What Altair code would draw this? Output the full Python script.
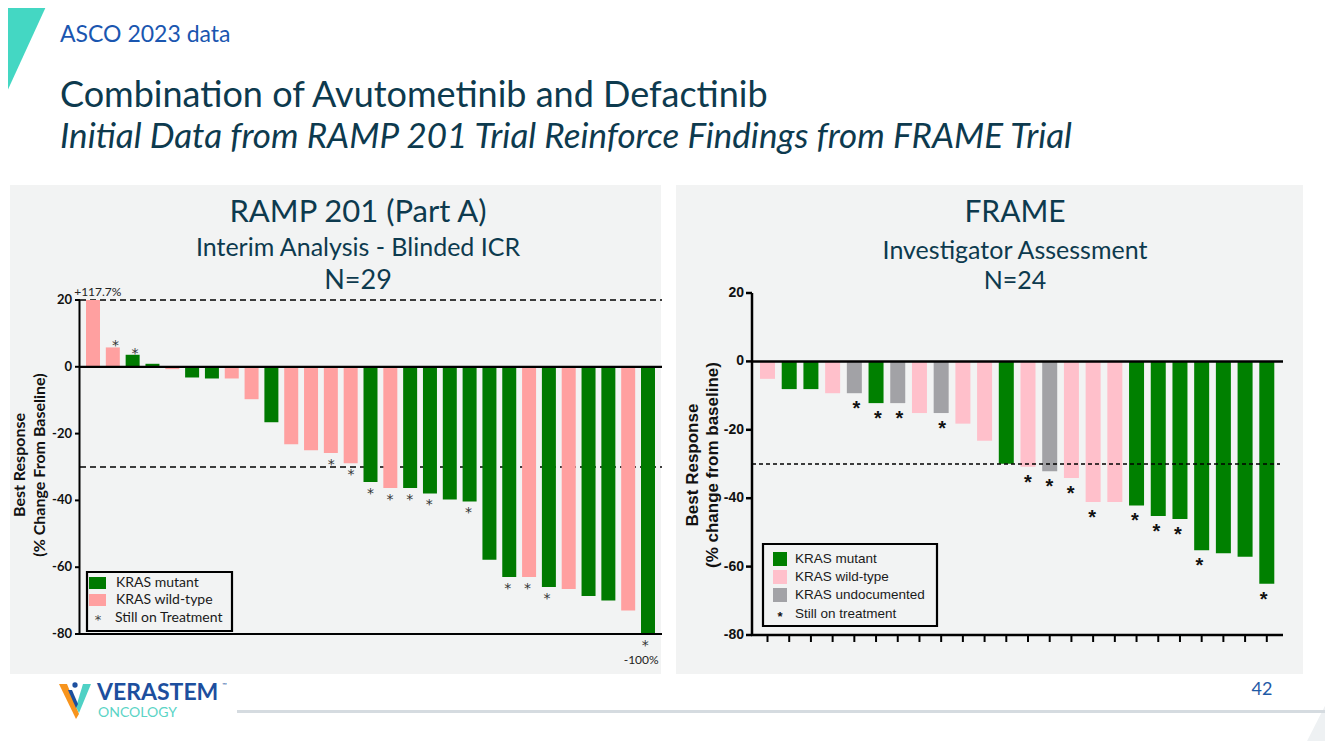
import altair as alt
import pandas as pd

# ---------------- data ----------------
MUT, WT, UND = "KRAS mutant", "KRAS wild-type", "KRAS undocumented"

ramp_ids = list(range(1, 30))
ramp_values = [117.7, 5.8, 3.6, 0.9, -0.7, -3.2, -3.5, -3.5, -9.7, -16.6, -23.2, -25.0,
               -25.8, -28.9, -34.5, -36.3, -36.3, -37.9, -39.7, -40.3, -57.8, -62.9,
               -62.9, -65.9, -66.5, -68.6, -70.0, -73.0, -100.0]
ramp_kras = [WT, WT, MUT, MUT, WT, MUT, MUT, WT, WT, MUT, WT, WT, WT, WT, MUT, WT, MUT,
             MUT, MUT, MUT, MUT, MUT, WT, MUT, WT, MUT, MUT, WT, MUT]
ramp_on_treatment = [0, 1, 1, 0, 0, 0, 0, 0, 0, 0, 0, 0, 1, 1, 1, 1, 1, 1, 0, 1, 0, 1, 1, 1,
                     0, 0, 0, 0, 1]

frame_ids = list(range(1, 25))
frame_values = [-5.1, -8.1, -8.1, -9.3, -9.3, -12.2, -12.2, -15.1, -15.1, -18.2, -23.2,
                -29.9, -30.8, -32.1, -34.1, -41.1, -41.1, -42.1, -45.2, -46.1, -55.2,
                -56.1, -57.1, -65.0]
frame_kras = [WT, MUT, MUT, WT, UND, MUT, UND, WT, UND, WT, WT, MUT, WT, UND, WT, WT, WT,
              MUT, MUT, MUT, MUT, MUT, MUT, MUT]
frame_on_treatment = [0, 0, 0, 0, 1, 1, 1, 0, 1, 0, 0, 0, 1, 1, 1, 1, 0, 1, 1, 1, 1, 0, 0, 1]

y_ticks = [20, 0, -20, -40, -60, -80]
ramp_dashed = [20, -30]
frame_dashed = [-30]
solid_lines = [0, -80]

ramp_legend = [MUT, WT]
frame_legend = [MUT, WT, UND]
ramp_star_label = "Still on Treatment"
frame_star_label = "Still on treatment"
ramp_palette = ["#007a00", "#ffa0a0"]
frame_palette = ["#008000", "#ffc0cb", "#a2a2a6"]

slide_tag = "ASCO 2023 data"
slide_title = "Combination of Avutometinib and Defactinib"
slide_subtitle = "Initial Data from RAMP 201 Trial Reinforce Findings from FRAME Trial"
ramp_titles = ["RAMP 201 (Part A)", "Interim Analysis - Blinded ICR", "N=29"]
frame_titles = ["FRAME", "Investigator Assessment", "N=24"]
ramp_ytitle = ["Best Response", "(% Change From Baseline)"]
frame_ytitle = ["Best  Response", "(% change from baseline)"]
page_number = "42"
logo_words = ["VERASTEM", "ONCOLOGY"]

# ---------------- helpers ----------------
OFF = 8
def px(v):
    return v - OFF

NAVY = "#0d3a4e"
PANEL = "#f2f3f3"
one = pd.DataFrame({"k": [0]})
layers = []

def text(s, x, y, size, color=NAVY, font="Lato", weight="normal", style="normal",
         align="center", baseline="middle", angle=None):
    kw = dict(text=s, fontSize=size, color=color, font=font, fontWeight=weight,
              fontStyle=style, align=align, baseline=baseline)
    if angle is not None:
        kw["angle"] = angle
    return alt.Chart(one).mark_text(**kw).encode(x=alt.value(px(x)), y=alt.value(px(y)))

def rect(x1, y1, x2, y2, fill, stroke=None, sw=0):
    kw = dict(fill=fill)
    if stroke:
        kw.update(stroke=stroke, strokeWidth=sw)
    else:
        kw.update(strokeWidth=0)
    return alt.Chart(one).mark_rect(**kw).encode(
        x=alt.value(px(x1)), x2=alt.value(px(x2)), y=alt.value(px(y1)), y2=alt.value(px(y2)))

def shape(path, x, y, color):
    return alt.Chart(one).mark_point(shape=path, size=4, filled=True, color=color,
                                     opacity=1, strokeWidth=0).encode(
        x=alt.value(px(x)), y=alt.value(px(y)))

# ---------------- slide decorations ----------------
layers.append(shape("M0,0 L49,0 L0,107 Z", 0, 0, "#44d7c3"))
layers.append(shape("M0,59 L30,0 L40,0 L40,70 L0,70 Z", 1303, 690, "#eef1f3"))
layers.append(rect(10, 185, 661, 674, PANEL))
layers.append(rect(676, 185, 1303, 674, PANEL))
layers.append(rect(237, 710, 1333, 713, "#d5dbe0"))

layers.append(text(slide_tag, 60, 35, 23, color="#1a56b0", align="left"))
layers.append(text(slide_title, 60, 96, 36, align="left"))
layers.append(text(slide_subtitle, 60, 137, 35, style="italic", align="left"))
layers.append(text(page_number, 1262, 690, 18, color="#1f5aa6"))

# logo
layers.append(shape("M0,1 L8,1 L20,31 L17,36 Z", 59, 683, "#f7941d"))
layers.append(shape("M24,1 L32,1 L20,30 L17,24 Z", 59, 683, "#4fd1c5"))
layers.append(shape("M9,7 L13,7 L19,21 L17,25 Z", 59, 683, "#1d4f9e"))
layers.append(alt.Chart(one).mark_point(shape="circle", size=28, filled=True, color="#1d4f9e",
                                        opacity=1).encode(x=alt.value(px(75)), y=alt.value(px(685))))
layers.append(text(logo_words[0], 97, 700, 23, color="#1d4f9e", weight="bold", align="left",
                   baseline="alphabetic"))
layers.append(text("\u2122", 222, 685, 6, color="#1d4f9e", align="left"))
layers.append(text(logo_words[1], 98, 717, 14, color="#5bd4c6", align="left",
                   baseline="alphabetic"))

# ---------------- RAMP 201 panel ----------------
for s, y, size in zip(ramp_titles, [213, 248, 281], [31, 25, 27]):
    layers.append(text(s, 358, y, size))
for s, x in zip(ramp_ytitle, [20, 40]):
    layers.append(text(s, x, 465, 16, color="#111", weight="bold", angle=270))

ramp_df = pd.DataFrame({"id": ramp_ids, "value": ramp_values, "kras": ramp_kras,
                        "on": ramp_on_treatment})
ramp_df["label"] = [(f"+{v}%" if v > 0 else f"{v:.0f}%") for v in ramp_values]
xs_l = alt.Scale(domain=ramp_ids, range=[px(86), px(655)], paddingInner=0.294, paddingOuter=0)
ys_l = alt.Scale(domain=[-80, 20], range=[px(634), px(300)], clamp=True, nice=False, zero=False)
X_l = alt.X("id:O", scale=xs_l, axis=None)
Y_l = alt.Y("value:Q", scale=ys_l, axis=None)

layers.append(alt.Chart(pd.DataFrame({"v": ramp_dashed})).mark_rule(
    color="black", strokeWidth=1.5, strokeDash=[6, 4]).encode(
    y=alt.Y("v:Q", scale=ys_l, axis=None), x=alt.value(px(80)), x2=alt.value(px(662))))
layers.append(alt.Chart(ramp_df).mark_bar(strokeWidth=0).encode(
    x=X_l, y=Y_l, y2=alt.datum(0),
    color=alt.Color("kras:N", scale=alt.Scale(domain=ramp_legend, range=ramp_palette), legend=None)))
layers.append(alt.Chart(pd.DataFrame({"v": solid_lines})).mark_rule(
    color="black", strokeWidth=2.2).encode(
    y=alt.Y("v:Q", scale=ys_l, axis=None), x=alt.value(px(79)), x2=alt.value(px(662))))
layers.append(alt.Chart(pd.DataFrame({"top": [max(y_ticks)], "bot": [min(y_ticks)]})).mark_rule(
    color="black", strokeWidth=2).encode(
    y=alt.Y("top:Q", scale=ys_l, axis=None), y2="bot:Q", x=alt.value(px(79.5))))
tick_df = pd.DataFrame({"v": y_ticks, "label": [str(v) for v in y_ticks]})
layers.append(alt.Chart(tick_df).mark_rule(color="black", strokeWidth=2).encode(
    y=alt.Y("v:Q", scale=ys_l, axis=None), x=alt.value(px(75)), x2=alt.value(px(80))))
layers.append(alt.Chart(tick_df).mark_text(align="right", baseline="middle", font="Lato",
                                           fontWeight="bold", fontSize=13, color="#111").encode(
    y=alt.Y("v:Q", scale=ys_l, axis=None), x=alt.value(px(72)), text="label:N"))
star_l = dict(text="*", font="DejaVu Sans", fontSize=14, color="#333", baseline="middle")
layers.append(alt.Chart(ramp_df[(ramp_df.on == 1) & (ramp_df.value < 0)]).mark_text(
    dy=12, **star_l).encode(x=X_l, y=Y_l))
layers.append(alt.Chart(ramp_df[(ramp_df.on == 1) & (ramp_df.value > 0)]).mark_text(
    dy=-1, **star_l).encode(x=X_l, y=Y_l))
ann = dict(font="Lato", fontSize=12, color="#222", baseline="middle")
layers.append(alt.Chart(ramp_df[ramp_df.value > 20]).mark_text(dy=-8, dx=2, **ann).encode(
    x=X_l, y=Y_l, text="label:N"))
layers.append(alt.Chart(ramp_df[ramp_df.value < -80]).mark_text(dy=26, dx=-4, **ann).encode(
    x=X_l, y=Y_l, text="label:N"))

# legend
layers.append(rect(87, 572, 232, 631, PANEL, stroke="black", sw=2.2))
for i, (lab, col) in enumerate(zip(ramp_legend, ramp_palette)):
    yc = 583 + 17 * i
    layers.append(rect(89, yc - 6, 106, yc + 6, col))
    layers.append(text(lab, 116, yc, 14, color="#1a1a1a", align="left"))
layers.append(text("*", 98, 620, 13, color="#444", font="DejaVu Sans"))
layers.append(text(ramp_star_label, 115, 618, 14, color="#1a1a1a", align="left"))

# ---------------- FRAME panel ----------------
for s, y, size in zip(frame_titles, [213, 251, 281], [30, 25, 25]):
    layers.append(text(s, 1015, y, size))
for s, x in zip(frame_ytitle, [693, 713]):
    layers.append(text(s, x, 465, 17, color="#111", font="Liberation Sans", weight="bold",
                       angle=270))

frame_df = pd.DataFrame({"id": frame_ids, "value": frame_values, "kras": frame_kras,
                         "on": frame_on_treatment})
xs_r = alt.Scale(domain=frame_ids, range=[px(760), px(1274.3)], paddingInner=0.309,
                 paddingOuter=0)
ys_r = alt.Scale(domain=[-80, 20], range=[px(635), px(293)], clamp=True, nice=False, zero=False)
X_r = alt.X("id:O", scale=xs_r, axis=None)
Y_r = alt.Y("value:Q", scale=ys_r, axis=None)

layers.append(alt.Chart(frame_df).mark_bar(strokeWidth=0).encode(
    x=X_r, y=Y_r, y2=alt.datum(0),
    color=alt.Color("kras:N", scale=alt.Scale(domain=frame_legend, range=frame_palette),
                    legend=None)))
layers.append(alt.Chart(pd.DataFrame({"v": frame_dashed})).mark_rule(
    color="black", strokeWidth=1.3, strokeDash=[4, 3]).encode(
    y=alt.Y("v:Q", scale=ys_r, axis=None), x=alt.value(px(752)), x2=alt.value(px(1280))))
layers.append(alt.Chart(pd.DataFrame({"v": solid_lines})).mark_rule(
    color="black", strokeWidth=2.5).encode(
    y=alt.Y("v:Q", scale=ys_r, axis=None), x=alt.value(px(751)), x2=alt.value(px(1283))))
layers.append(alt.Chart(pd.DataFrame({"top": [max(y_ticks)], "bot": [min(y_ticks)]})).mark_rule(
    color="black", strokeWidth=2.5).encode(
    y=alt.Y("top:Q", scale=ys_r, axis=None), y2="bot:Q", x=alt.value(px(752))))
layers.append(alt.Chart(tick_df).mark_rule(color="black", strokeWidth=2.5).encode(
    y=alt.Y("v:Q", scale=ys_r, axis=None), x=alt.value(px(746)), x2=alt.value(px(752))))
layers.append(alt.Chart(tick_df).mark_text(align="right", baseline="middle",
                                           font="Liberation Sans", fontWeight="bold",
                                           fontSize=14, color="#111").encode(
    y=alt.Y("v:Q", scale=ys_r, axis=None), x=alt.value(px(744)), text="label:N"))
layers.append(alt.Chart(frame_df).mark_rule(color="black", strokeWidth=2).encode(
    x=X_r, y=alt.value(px(635)), y2=alt.value(px(642))))
layers.append(alt.Chart(frame_df[frame_df.on == 1]).mark_text(
    text="*", font="Liberation Sans", fontWeight="bold", fontSize=20, color="#111",
    baseline="middle", dy=16).encode(x=X_r, y=Y_r))

# legend
layers.append(rect(763, 544, 937, 626, PANEL, stroke="black", sw=2.2))
for i, (lab, col) in enumerate(zip(frame_legend, frame_palette)):
    yc = 559 + 18 * i
    layers.append(rect(773, yc - 7, 787, yc + 7, col))
    layers.append(text(lab, 795, yc, 13.5, color="#1a1a1a", font="Liberation Sans",
                       align="left"))
layers.append(text("*", 780, 617, 13, color="#111", font="Liberation Sans", weight="bold"))
layers.append(text(frame_star_label, 795, 614, 13.5, color="#1a1a1a", font="Liberation Sans",
                   align="left"))

chart = alt.layer(*layers).resolve_scale(
    x="independent", y="independent", color="independent"
).properties(
    width=1317, height=733, padding=0, background="white",
    autosize=alt.AutoSizeParams(type="none")
).configure_view(stroke=None)

chart.save("out.html", embed_options={"renderer": "svg", "actions": False})
